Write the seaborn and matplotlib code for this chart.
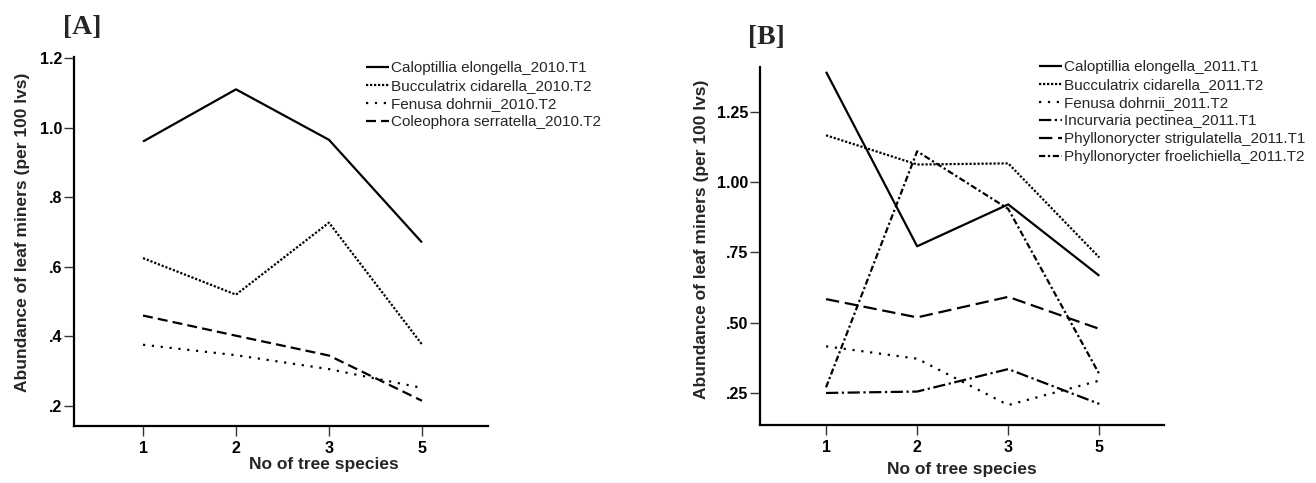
import matplotlib
matplotlib.use("Agg")
import matplotlib.pyplot as plt
import seaborn as sns
import pandas as pd

# Number of tree species (categorical positions on the x axis)
tree_species = ["1", "2", "3", "5"]

# 2010 survey: abundance of leaf miners per 100 leaves
caloptillia_2010 = [0.96, 1.11, 0.965, 0.67]
bucculatrix_2010 = [0.625, 0.52, 0.727, 0.377]
fenusa_2010 = [0.376, 0.346, 0.306, 0.252]
coleophora_2010 = [0.46, 0.402, 0.345, 0.215]

# 2011 survey
caloptillia_2011 = [1.393, 0.772, 0.921, 0.667]
bucculatrix_2011 = [1.167, 1.063, 1.067, 0.732]
fenusa_2011 = [0.416, 0.372, 0.207, 0.294]
incurvaria_2011 = [0.25, 0.255, 0.335, 0.211]
strigulatella_2011 = [0.584, 0.519, 0.592, 0.478]
froelichiella_2011 = [0.27, 1.11, 0.905, 0.317]

names_2010 = ["Caloptillia elongella_2010.T1", "Bucculatrix cidarella_2010.T2",
              "Fenusa dohrnii_2010.T2", "Coleophora serratella_2010.T2"]
values_2010 = [caloptillia_2010, bucculatrix_2010, fenusa_2010, coleophora_2010]

names_2011 = ["Caloptillia elongella_2011.T1", "Bucculatrix cidarella_2011.T2",
              "Fenusa dohrnii_2011.T2", "Incurvaria pectinea_2011.T1",
              "Phyllonorycter strigulatella_2011.T1",
              "Phyllonorycter froelichiella_2011.T2"]
values_2011 = [caloptillia_2011, bucculatrix_2011, fenusa_2011, incurvaria_2011,
               strigulatella_2011, froelichiella_2011]

yticks_2010 = [0.2, 0.4, 0.6, 0.8, 1.0, 1.2]
yticklabels_2010 = [".2", ".4", ".6", ".8", "1.0", "1.2"]
yticks_2011 = [0.25, 0.50, 0.75, 1.00, 1.25]
yticklabels_2011 = [".25", ".50", ".75", "1.00", "1.25"]


def long_table(names, values):
    rows = []
    for name, vals in zip(names, values):
        for x, v in zip(tree_species, vals):
            rows.append({"species": x, "abundance": v, "miner": name})
    return pd.DataFrame(rows)


sns.set_theme(style="white")
plt.rcParams["font.family"] = ["Liberation Sans", "DejaVu Sans"]
plt.rcParams["lines.solid_capstyle"] = "butt"

fig = plt.figure(figsize=(13.16, 4.83), dpi=100)
W, H = 1316, 483
axA = fig.add_axes([74 / W, (H - 426) / H, 414 / W, 369 / H])
axB = fig.add_axes([760 / W, (H - 425) / H, 404 / W, 358 / H])

dashes_2010 = {
    names_2010[0]: "",
    names_2010[1]: (1.0, 0.8),
    names_2010[2]: (1.0, 3.0),
    names_2010[3]: (4.5, 2.3),
}
dashes_2011 = {
    names_2011[0]: "",
    names_2011[1]: (1.0, 0.8),
    names_2011[2]: (1.0, 3.0),
    names_2011[3]: (5.5, 1.6, 1.0, 1.6),
    names_2011[4]: (6.0, 2.6),
    names_2011[5]: (2.8, 1.2, 1.0, 1.2),
}

panels = [
    (axA, long_table(names_2010, values_2010), names_2010, dashes_2010,
     (0.1425, 1.203), yticks_2010, yticklabels_2010, (-0.742, 3.71)),
    (axB, long_table(names_2011, values_2011), names_2011, dashes_2011,
     (0.136, 1.41), yticks_2011, yticklabels_2011, (-0.725, 3.71)),
]

legend_anchor = {axA: (366 / W, 1 - 61 / H), axB: (1039 / W, 1 - 60 / H)}
legend_spacing = {axA: 0.26, axB: 0.26}

for ax, df, names, dashes, ylim, yt, ytl, xlim in panels:
    sns.lineplot(data=df, x="species", y="abundance", style="miner",
                 style_order=names, dashes=dashes, color="black",
                 linewidth=1.6, sort=False, ax=ax)
    ax.set_xlim(*xlim)
    ax.set_ylim(*ylim)
    ax.set_yticks(yt)
    ax.set_yticklabels(ytl)
    for side in ("top", "right"):
        ax.spines[side].set_visible(False)
    for side in ("left", "bottom"):
        ax.spines[side].set_color("black")
        ax.spines[side].set_linewidth(1.6)
    ax.tick_params(axis="both", direction="out", length=7, width=1.0,
                   color="#333333", labelsize=11.5, labelcolor="black",
                   left=True, bottom=True)
    ax.tick_params(axis="y", pad=1.5)
    ax.tick_params(axis="x", pad=4)
    for lab in ax.get_xticklabels() + ax.get_yticklabels():
        lab.set_fontweight("bold")
    ax.set_xlabel("No of tree species", fontsize=12.5, fontweight="bold")
    ax.set_ylabel("Abundance of leaf miners (per 100 lvs)", fontsize=12.5,
                  fontweight="bold")
    handles, labels = ax.get_legend_handles_labels()
    ax.legend(handles, labels, loc="upper left",
              bbox_to_anchor=legend_anchor[ax], bbox_transform=fig.transFigure,
              frameon=False, fontsize=11, borderpad=0, borderaxespad=0,
              labelspacing=legend_spacing[ax], handlelength=1.5,
              handletextpad=0.15)

axA.xaxis.set_label_coords(0.604, -0.084)
axB.xaxis.set_label_coords(0.50, -0.103)
axA.yaxis.set_label_coords(-0.106, 0.526)
axB.yaxis.set_label_coords(-0.126, 0.52)

fig.text(63 / W, 1 - 34 / H, "[A]", ha="left", va="baseline",
         family=["Liberation Serif", "DejaVu Serif"], weight="bold", size=20)
fig.text(748 / W, 1 - 44 / H, "[B]", ha="left", va="baseline",
         family=["Liberation Serif", "DejaVu Serif"], weight="bold", size=20)

fig.savefig("out.png", dpi=100, facecolor="white")
